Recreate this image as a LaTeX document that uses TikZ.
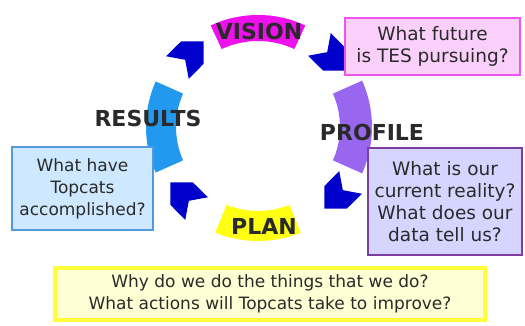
\documentclass[tikz,border=0pt]{standalone}
\usepackage{amssymb}
\usepackage{amsmath}
\usepackage{fontspec}
\setmainfont{DejaVu Sans}
\usepackage{pgf,tikz}
\usepackage{tkz-euclide}
\usepackage{xcolor}
\usetikzlibrary{arrows, calc}

\definecolor{visionmag}{HTML}{EE11EE}
\definecolor{resultsblue}{HTML}{2299EE}
\definecolor{profilepurple}{HTML}{9966F0}
\definecolor{planyellow}{HTML}{FFFF11}
\definecolor{cyclenavy}{HTML}{0000CC}
\definecolor{pinkfill}{HTML}{FAD0FA}
\definecolor{pinkline}{HTML}{EE55EE}
\definecolor{bluefill}{HTML}{CDE8FF}
\definecolor{blueline}{HTML}{5599DD}
\definecolor{purplefill}{HTML}{D5D5FF}
\definecolor{purpleline}{HTML}{7A3DA0}
\definecolor{yellowfill}{HTML}{FFFFD5}
\definecolor{yellowline}{HTML}{FFFF3A}
\definecolor{textgrey}{HTML}{2A2A2A}

\begin{document}
\begin{tikzpicture}[x=1pt,y=1pt,
	qbox/.style={draw,line width=2.5pt,align=center,inner sep=0pt,text=textgrey,font=\fontsize{18.5}{22}\selectfont},
	cyclelabel/.style={text=textgrey,font=\bfseries\fontsize{22}{24}\selectfont}]
	    \useasboundingbox (0,0) rectangle (525,326);
	    \tkzDefPoint(258,199){O}
	    \tkzDefPoint(188,269){a_1}
	    \tkzDefPoint(330,271){a_2}
	    \tkzDefPoint(340,133){a_3}
	    \tkzDefPoint(186,128){a_4}

	    \fill[visionmag] ($(O)+(65:112pt)$) arc[start angle=65,end angle=115,radius=112pt] -- ($(O)+(115:86pt)$) arc[start angle=115,end angle=65,radius=86pt] -- cycle;
	    \fill[resultsblue] ($(O)+(156:112pt)$) arc[start angle=156,end angle=204,radius=112pt] -- ($(O)+(204:82pt)$) arc[start angle=204,end angle=156,radius=82pt] -- cycle;
	    \fill[profilepurple] ($(O)+(-24:114pt)$) arc[start angle=-24,end angle=24,radius=114pt] -- ($(O)+(24:82pt)$) arc[start angle=24,end angle=-24,radius=82pt] -- cycle;
	    \fill[planyellow] ($(O)+(248:114pt)$) arc[start angle=248,end angle=292,radius=114pt] -- ($(O)+(292:84pt)$) arc[start angle=292,end angle=248,radius=84pt] -- cycle;

	    \foreach \p/\d in {a_1/45, a_2/-45, a_3/-135, a_4/135}
	        \fill[cyclenavy] ($(\p)+(\d:22pt)$) -- ($(\p)+(\d+69:17pt)$) -- ($(\p)+(\d+133:22pt)$) -- ($(\p)+(\d+180:4pt)$) -- ($(\p)+(\d-133:22pt)$) -- ($(\p)+(\d-69:17pt)$) -- cycle;

	    \node[qbox, draw=pinkline, fill=pinkfill, minimum width=175pt, minimum height=57pt] (future) at (432.5,279.5) {What future\\is TES pursuing?};
	    \node[qbox, draw=blueline, fill=bluefill, minimum width=141pt, minimum height=83pt, font=\fontsize{17}{22}\selectfont] (accomplished) at (82.5,137.5) {What have\\Topcats\\accomplished?};
	    \node[qbox, draw=purpleline, fill=purplefill, minimum width=154pt, minimum height=107pt] (reality) at (445,124.5) {What is our\\current reality?\\What does our\\data tell us?};
	    \node[qbox, draw=yellowline, fill=yellowfill, line width=3.5pt, minimum width=430pt, minimum height=52pt, font=\fontsize{17}{22}\selectfont] (why) at (270,32) {Why do we do the things that we do?\\What actions will Topcats take to improve?};

	    \node[cyclelabel] (vision) at (259,295) {VISION};
	    \node[cyclelabel] (results) at (148,208) {RESULTS};
	    \node[cyclelabel] (profile) at (372,194) {PROFILE};
	    \node[cyclelabel] (plan) at (264,100) {PLAN};
		\end{tikzpicture}
\end{document}
